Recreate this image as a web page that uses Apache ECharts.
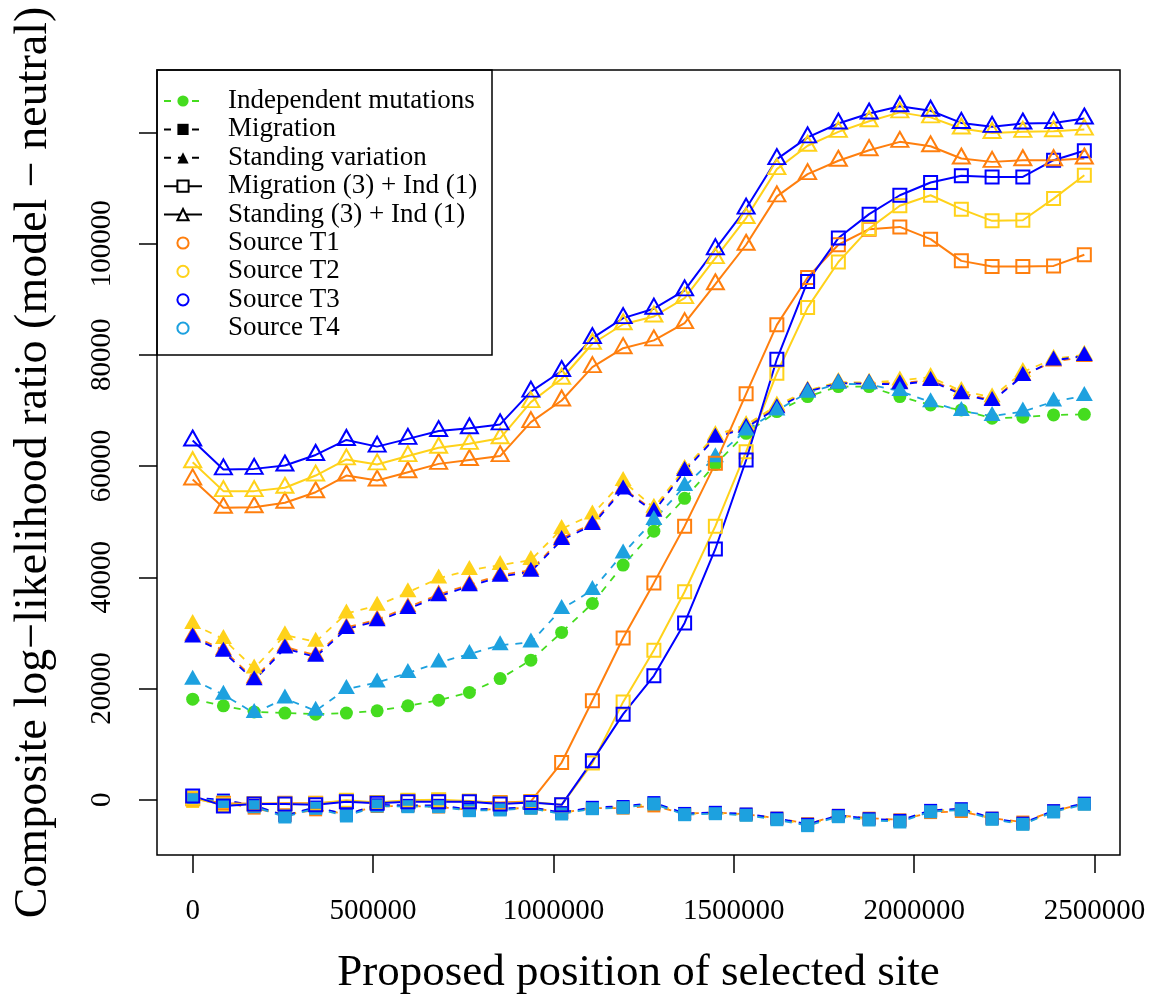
<!DOCTYPE html>
<html><head><meta charset="utf-8">
<script src="https://cdn.jsdelivr.net/npm/echarts@6/dist/echarts.min.js"></script>
<style>html,body{margin:0;padding:0;background:#fff}#c{width:1153px;height:1000px}</style>
</head><body><div id="c"></div>
<script>
// ---------------- data ----------------
const positions = [0, 85230, 170460, 255690, 340920, 426150, 511380, 596610, 681840, 767070,
  852300, 937530, 1022760, 1107990, 1193220, 1278450, 1363680, 1448910, 1534140, 1619370,
  1704600, 1789830, 1875060, 1960290, 2045520, 2130750, 2215980, 2301210, 2386440, 2471670];
const xTicks = [0, 500000, 1000000, 1500000, 2000000, 2500000];
const yTicks = [0, 20000, 40000, 60000, 80000, 100000, 120000];
const yTickLabels = [0, 20000, 40000, 60000, 80000, 100000];

const legendNames = ['Independent mutations', 'Migration', 'Standing variation',
  'Migration (3) + Ind (1)', 'Standing (3) + Ind (1)', 'Source T1', 'Source T2', 'Source T3', 'Source T4'];

const independent = [18100, 16900, 15800, 15600, 15400, 15600, 16000, 16900, 17900, 19300,
  21800, 25100, 30100, 35300, 42200, 48300, 54200, 60300, 65900, 69800,
  72500, 74300, 74300, 72500, 71000, 70100, 68600, 68800, 69200, 69300];

const migrationT1 = [100, -500, -1500, -2700, -1800, -2500, -1200, -1100, -1300, -1800,
  -1700, -1400, -2300, -1500, -1500, -1100, -2500, -2300, -2600, -3300,
  -4300, -2800, -3300, -3600, -2300, -2100, -3300, -4000, -2000, -700];
const migrationT2 = [-300, -400, -1100, -2800, -1400, -2600, -1000, -1100, -1100, -1800,
  -1700, -1500, -2400, -1500, -1300, -700, -2500, -2400, -2700, -3400,
  -4500, -2900, -3500, -3800, -2000, -1700, -3400, -4300, -2100, -700];
const migrationT3 = [450, -50, -1000, -2850, -1300, -2650, -900, -1000, -1000, -1700,
  -1600, -1300, -2300, -1350, -1200, -500, -2450, -2250, -2550, -3300,
  -4400, -2800, -3400, -3700, -1900, -1600, -3300, -4200, -1950, -600];
const migrationT4 = [200, -300, -1240, -3090, -1530, -2910, -1115, -1240, -1240, -1960,
  -1830, -1530, -2550, -1600, -1420, -755, -2680, -2500, -2790, -3580,
  -4650, -3040, -3630, -3990, -2140, -1830, -3510, -4410, -2190, -810];

const standingT1 = [29500, 26900, 21800, 27500, 26000, 31000, 32400, 34600, 36900, 38700,
  40400, 41300, 47000, 49700, 56000, 52000, 59400, 65300, 67100, 70600,
  73500, 75000, 74900, 74900, 75500, 73100, 71900, 76300, 78800, 79600];
const standingT2 = [31600, 28900, 23600, 29600, 28400, 33500, 34900, 37300, 39800, 41300,
  42200, 43100, 48700, 51300, 57300, 52500, 59500, 65600, 67400, 70900,
  73600, 75100, 75000, 75400, 76000, 73500, 72400, 76900, 79300, 80000];
const standingT3 = [29200, 26600, 21500, 27200, 25700, 30700, 32100, 34300, 36600, 38400,
  40100, 41000, 46700, 49400, 55800, 51800, 59100, 65100, 66900, 70400,
  73400, 74900, 74800, 74700, 75300, 72900, 71700, 76200, 79000, 79800];
const standingT4 = [21600, 18900, 15600, 18200, 16000, 19900, 21100, 22800, 24700, 26200,
  27800, 28300, 34300, 37700, 44300, 50300, 56400, 61600, 66400, 70000,
  73200, 74800, 74700, 73500, 71500, 69900, 69000, 69800, 71600, 72600];

const migIndT1 = [200, -600, -700, -600, -600, -300, -500, -200, -200, -300,
  -500, -300, 6700, 17800, 29100, 39000, 49200, 60500, 73000, 85400,
  93900, 99800, 102600, 103000, 100800, 96900, 95900, 95900, 96000, 98000];
const migIndT2 = [300, -900, -700, -700, -700, -100, -500, -100, 0, -200,
  -600, -400, -900, 6600, 17600, 26900, 37400, 49200, 62600, 76700,
  88500, 96700, 102700, 106800, 108700, 106200, 104100, 104200, 108100, 112300];
const migIndT3 = [700, -1100, -750, -750, -900, -350, -600, -350, -350, -350,
  -750, -500, -900, 7000, 15400, 22300, 31800, 45100, 61100, 79200,
  93200, 101000, 105300, 108700, 111000, 112200, 112000, 112000, 115000, 116700];

const standIndT1 = [57600, 52500, 52600, 53400, 55300, 58300, 57400, 58900, 60400, 61100,
  61800, 67900, 71800, 77800, 81200, 82600, 85700, 92700, 99800, 108500,
  112500, 114900, 116800, 118300, 117500, 115300, 114700, 115000, 115000, 115300];
const standIndT2 = [60700, 55500, 55500, 56100, 58300, 61200, 60300, 61800, 63300, 64000,
  65000, 71500, 75700, 82000, 85500, 86900, 90200, 97400, 104600, 113400,
  117600, 120100, 122000, 123600, 122700, 120700, 119900, 120100, 120200, 120500];
const standIndT3 = [64600, 59400, 59500, 60100, 62000, 64700, 63500, 64900, 66300, 66800,
  67500, 73400, 77100, 83000, 86600, 88300, 91600, 99000, 106300, 115200,
  119100, 121600, 123400, 124700, 123900, 121700, 121000, 121600, 121700, 122500];

// ---------------- styles ----------------
const FONT = 'Liberation Serif';
const GREEN = '#45DC1F', ORANGE = '#FF7F0E', YELLOW = '#FFD21A', BLUE = '#0000FF', LBLUE = '#1DA1DF';
const DASH = [7, 7];
const TRI = [17, 15];
const TRI_OFF = [0, -2.5];
const pts = vals => positions.map((x, i) => [x, vals[i]]);

function dashedSeries(vals, color, symbol, size, offset) {
  return {
    type: 'line', data: pts(vals), symbol: symbol, symbolSize: size, symbolOffset: offset || [0, 0],
    itemStyle: { color: color }, lineStyle: { color: color, width: 1.8, type: DASH },
    silent: true, animation: false, z: 3
  };
}
function solidOpenSeries(vals, color, symbol, size, offset) {
  return {
    type: 'line', data: pts(vals), symbol: symbol, symbolSize: size, symbolOffset: offset || [0, 0],
    itemStyle: { color: 'rgba(0,0,0,0)', borderColor: color, borderWidth: 2 },
    lineStyle: { color: color, width: 2, type: 'solid' },
    silent: true, animation: false, z: 3
  };
}
function legendSeries(name, color, symbol, lineType, lineOpacity) {
  return {
    type: 'line', name: name, data: [], symbol: symbol,
    itemStyle: { color: color }, lineStyle: { color: color, width: 1.8, type: lineType, opacity: lineOpacity },
    animation: false
  };
}

const series = [
  dashedSeries(independent, GREEN, 'circle', 13),
  dashedSeries(migrationT1, ORANGE, 'rect', 13),
  dashedSeries(migrationT2, YELLOW, 'rect', 13),
  dashedSeries(migrationT3, BLUE, 'rect', 13),
  dashedSeries(migrationT4, LBLUE, 'rect', 13),
  dashedSeries(standingT1, ORANGE, 'triangle', TRI, TRI_OFF),
  dashedSeries(standingT2, YELLOW, 'triangle', TRI, TRI_OFF),
  dashedSeries(standingT3, BLUE, 'triangle', TRI, TRI_OFF),
  dashedSeries(standingT4, LBLUE, 'triangle', TRI, TRI_OFF),
  solidOpenSeries(migIndT1, ORANGE, 'rect', 13),
  solidOpenSeries(migIndT2, YELLOW, 'rect', 13),
  solidOpenSeries(migIndT3, BLUE, 'rect', 13),
  solidOpenSeries(standIndT1, ORANGE, 'triangle', TRI, TRI_OFF),
  solidOpenSeries(standIndT2, YELLOW, 'triangle', TRI, TRI_OFF),
  solidOpenSeries(standIndT3, BLUE, 'triangle', TRI, TRI_OFF),
  legendSeries(legendNames[0], GREEN, 'circle', DASH, 1),
  legendSeries(legendNames[1], '#000', 'rect', DASH, 1),
  legendSeries(legendNames[2], '#000', 'triangle', DASH, 1),
  legendSeries(legendNames[3], '#000', 'emptyRect', 'solid', 1),
  legendSeries(legendNames[4], '#000', 'emptyTriangle', 'solid', 1),
  legendSeries(legendNames[5], ORANGE, 'emptyCircle', 'solid', 0),
  legendSeries(legendNames[6], YELLOW, 'emptyCircle', 'solid', 0),
  legendSeries(legendNames[7], BLUE, 'emptyCircle', 'solid', 0),
  legendSeries(legendNames[8], LBLUE, 'emptyCircle', 'solid', 0)
];

const chart = echarts.init(document.getElementById('c'), null, { renderer: 'canvas' });
chart.setOption({
  animation: false,
  backgroundColor: '#fff',
  textStyle: { fontFamily: FONT, color: '#000' },
  grid: {
    left: 157, right: 33, top: 70, bottom: 145, show: true,
    borderColor: '#000', borderWidth: 1.5, backgroundColor: 'rgba(0,0,0,0)',
    containLabel: false, outerBoundsMode: 'none'
  },
  xAxis: {
    type: 'value', min: -98870, max: 2570540, position: 'bottom',
    axisLine: { show: false, onZero: false },
    splitLine: { show: false },
    axisTick: { show: true, inside: false, length: 18, customValues: xTicks, lineStyle: { color: '#000', width: 1.5 } },
    axisLabel: { show: true, customValues: xTicks, margin: 42, fontSize: 29, fontFamily: FONT, color: '#000',
      formatter: v => String(v) },
    name: 'Proposed position of selected site', nameLocation: 'middle', nameGap: 96,
    nameMoveOverlap: false,
    nameTextStyle: { fontSize: 45, fontFamily: FONT, color: '#000' }
  },
  yAxis: {
    type: 'value', min: -9925, max: 131219, position: 'left',
    axisLine: { show: false, onZero: false },
    splitLine: { show: false },
    axisTick: { show: true, inside: false, length: 18, customValues: yTicks, lineStyle: { color: '#000', width: 1.5 } },
    axisLabel: { show: true, customValues: yTickLabels, rotate: 90, margin: 40, fontSize: 29, fontFamily: FONT, color: '#000',
      formatter: v => String(v) },
    name: 'Composite log\u2212likelihood ratio (model \u2212 neutral)', nameLocation: 'middle', nameGap: 100,
    nameMoveOverlap: false,
    nameTextStyle: { fontSize: 46, fontFamily: FONT, color: '#000' }
  },
  legend: {
    show: true, orient: 'vertical', left: 163, top: 87, padding: 0,
    itemWidth: 38, itemHeight: 14, itemGap: 0.4, selectedMode: false,
    data: legendNames,
    textStyle: { fontFamily: FONT, fontSize: 27, lineHeight: 28, color: '#000', padding: [0, 0, 0, 21] }
  },
  graphic: [{
    type: 'rect', silent: true, z: 10,
    shape: { x: 157, y: 70, width: 335, height: 285 },
    style: { fill: 'none', stroke: '#000', lineWidth: 1.5 }
  }],
  series: series
});
</script></body></html>
